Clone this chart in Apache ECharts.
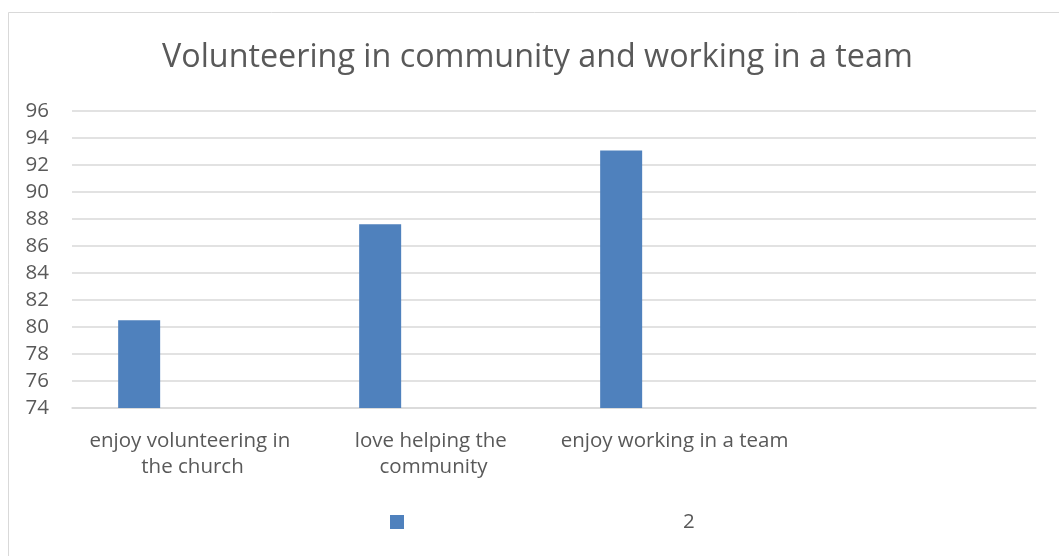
<!DOCTYPE html>
<html>
<head>
<meta charset="utf-8">
<title>Volunteering in community and working in a team</title>
<script src="https://cdn.jsdelivr.net/npm/echarts@6/dist/echarts.min.js"></script>
<style>
  html, body { margin: 0; padding: 0; background: #ffffff; }
  #chart { width: 1059px; height: 556px; }
</style>
</head>
<body>
<div id="chart"></div>
<script>
// Chart content
const titleText = 'Volunteering in community and working in a team';
const categories = ['enjoy volunteering in the church', 'love helping the community', 'enjoy working in a team', ''];
const seriesNames = ['Series1', '2'];
const seriesValues = [80.5, 87.6, 93.05, null];
const secondSeriesValues = [null, null, null, null];
const yMin = 74, yMax = 96, yStep = 2;

const FONT = '"Open Sans", Lato, sans-serif';
const TEXT = '#595959';
const GRID = '#d9d9d9';
const BLUE = '#4f81bd';
const LABEL_SIZE = 20.5;

const chart = echarts.init(document.getElementById('chart'), null, { renderer: 'canvas' });

chart.setOption({
  animation: false,
  backgroundColor: '#ffffff',
  textStyle: { fontFamily: FONT },
  graphic: [{
    type: 'rect',
    shape: { x: 8.5, y: 12.5, width: 1070, height: 560 },
    style: { fill: 'none', stroke: GRID, lineWidth: 1 },
    silent: true,
    z: -1
  }],
  title: {
    text: titleText,
    left: 157,
    top: 37,
    textStyle: { fontFamily: FONT, fontSize: 32.3, fontWeight: 'normal', color: TEXT }
  },
  legend: [{
    data: [seriesNames[0]],
    left: 390,
    top: 515,
    itemWidth: 14,
    itemHeight: 14,
    itemGap: 0,
    padding: 0,
    formatter: () => '',
    selectedMode: false,
    icon: 'rect'
  }, {
    data: [seriesNames[1]],
    left: 678,
    top: 512,
    itemWidth: 0,
    itemHeight: 0,
    padding: 0,
    selectedMode: false,
    icon: 'rect',
    textStyle: { fontFamily: FONT, fontSize: LABEL_SIZE, color: TEXT }
  }],
  grid: { left: 72, right: 23, top: 110.7, bottom: 148, containLabel: false },
  xAxis: {
    type: 'category',
    data: categories,
    axisLine: { lineStyle: { color: GRID, width: 1.5 } },
    axisTick: { show: false },
    axisLabel: {
      color: TEXT,
      fontFamily: FONT,
      fontSize: LABEL_SIZE,
      lineHeight: 26,
      margin: 20,
      interval: 0,
      width: 232,
      overflow: 'break'
    }
  },
  yAxis: {
    type: 'value',
    min: yMin,
    max: yMax,
    interval: yStep,
    axisLine: { show: false },
    axisTick: { show: false },
    axisLabel: { color: TEXT, fontFamily: FONT, fontSize: LABEL_SIZE, margin: 23 },
    splitLine: { lineStyle: { color: GRID, width: 1.5 } }
  },
  series: [{
    name: seriesNames[0],
    type: 'bar',
    data: seriesValues,
    barWidth: 42,
    barGap: '154%',
    itemStyle: { color: BLUE }
  }, {
    name: seriesNames[1],
    type: 'bar',
    data: secondSeriesValues,
    barWidth: 42,
    itemStyle: { color: 'rgba(0,0,0,0)' }
  }]
});
</script>
</body>
</html>
